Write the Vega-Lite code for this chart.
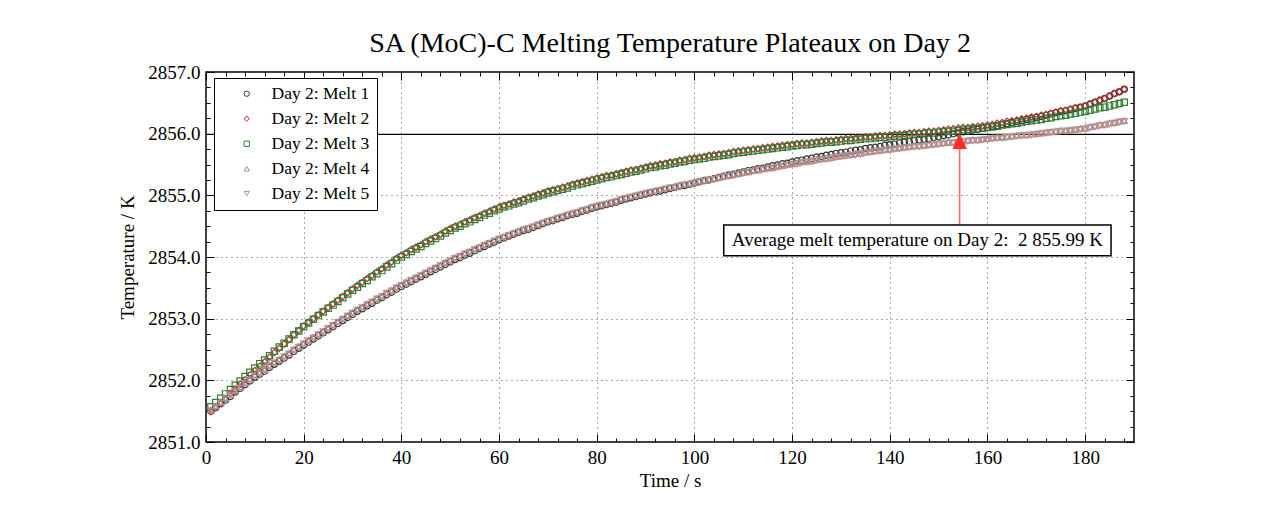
{
"$schema": "https://vega.github.io/schema/vega-lite/v6.json",
"width": 928,
"height": 370,
"autosize": {"type": "none"},
"padding": {"left": 206, "top": 72, "right": 140, "bottom": 73},
"background": "white",
"title": {"text": "SA (MoC)-C Melting Temperature Plateaux on Day 2", "font": "Liberation Serif", "fontSize": 28, "fontWeight": "normal", "color": "black", "offset": 5, "frame": "group", "anchor": "middle"},
"config": {"view": {"stroke": "black", "strokeWidth": 1.5}, "font": "Liberation Serif"},
"datasets": {
"ann": [{"avg": 2855.99, "ax": 154.3, "ay0": 2854.52, "ay1": 2855.8, "hy": 2855.88, "bx0": 106.0, "bx1": 185.3, "by0": 2854.02, "by1": 2854.52, "tx": 145.65, "ty": 2854.27, "label": "Average melt temperature on Day 2: \u00a02 855.99 K"}],
"melt": [
{"t":1,"m1":2851.50,"m2":2851.49,"m3":2851.57,"m4":2851.52,"m5":2851.51},
{"t":2,"m1":2851.56,"m2":2851.56,"m3":2851.64,"m4":2851.58,"m5":2851.57},
{"t":3,"m1":2851.62,"m2":2851.64,"m3":2851.71,"m4":2851.64,"m5":2851.63},
{"t":4,"m1":2851.68,"m2":2851.71,"m3":2851.78,"m4":2851.71,"m5":2851.70},
{"t":5,"m1":2851.74,"m2":2851.79,"m3":2851.85,"m4":2851.77,"m5":2851.76},
{"t":6,"m1":2851.81,"m2":2851.86,"m3":2851.92,"m4":2851.83,"m5":2851.82},
{"t":7,"m1":2851.87,"m2":2851.94,"m3":2851.99,"m4":2851.89,"m5":2851.88},
{"t":8,"m1":2851.93,"m2":2852.01,"m3":2852.06,"m4":2851.96,"m5":2851.95},
{"t":9,"m1":2851.99,"m2":2852.09,"m3":2852.13,"m4":2852.02,"m5":2852.01},
{"t":10,"m1":2852.05,"m2":2852.16,"m3":2852.20,"m4":2852.08,"m5":2852.07},
{"t":11,"m1":2852.10,"m2":2852.23,"m3":2852.27,"m4":2852.13,"m5":2852.12},
{"t":12,"m1":2852.15,"m2":2852.30,"m3":2852.33,"m4":2852.18,"m5":2852.17},
{"t":13,"m1":2852.21,"m2":2852.38,"m3":2852.40,"m4":2852.24,"m5":2852.23},
{"t":14,"m1":2852.26,"m2":2852.45,"m3":2852.47,"m4":2852.29,"m5":2852.28},
{"t":15,"m1":2852.31,"m2":2852.52,"m3":2852.54,"m4":2852.34,"m5":2852.33},
{"t":16,"m1":2852.36,"m2":2852.59,"m3":2852.60,"m4":2852.39,"m5":2852.38},
{"t":17,"m1":2852.41,"m2":2852.66,"m3":2852.67,"m4":2852.44,"m5":2852.43},
{"t":18,"m1":2852.47,"m2":2852.74,"m3":2852.74,"m4":2852.50,"m5":2852.49},
{"t":19,"m1":2852.52,"m2":2852.81,"m3":2852.80,"m4":2852.55,"m5":2852.54},
{"t":20,"m1":2852.57,"m2":2852.88,"m3":2852.87,"m4":2852.60,"m5":2852.59},
{"t":21,"m1":2852.62,"m2":2852.94,"m3":2852.93,"m4":2852.65,"m5":2852.64},
{"t":22,"m1":2852.67,"m2":2853.00,"m3":2852.99,"m4":2852.70,"m5":2852.69},
{"t":23,"m1":2852.72,"m2":2853.06,"m3":2853.05,"m4":2852.75,"m5":2852.74},
{"t":24,"m1":2852.77,"m2":2853.12,"m3":2853.11,"m4":2852.80,"m5":2852.79},
{"t":25,"m1":2852.82,"m2":2853.18,"m3":2853.17,"m4":2852.85,"m5":2852.84},
{"t":26,"m1":2852.87,"m2":2853.24,"m3":2853.22,"m4":2852.90,"m5":2852.89},
{"t":27,"m1":2852.92,"m2":2853.30,"m3":2853.28,"m4":2852.95,"m5":2852.94},
{"t":28,"m1":2852.97,"m2":2853.36,"m3":2853.34,"m4":2853.00,"m5":2852.99},
{"t":29,"m1":2853.02,"m2":2853.42,"m3":2853.40,"m4":2853.05,"m5":2853.04},
{"t":30,"m1":2853.07,"m2":2853.48,"m3":2853.46,"m4":2853.10,"m5":2853.09},
{"t":31,"m1":2853.12,"m2":2853.54,"m3":2853.51,"m4":2853.15,"m5":2853.14},
{"t":32,"m1":2853.16,"m2":2853.59,"m3":2853.57,"m4":2853.19,"m5":2853.18},
{"t":33,"m1":2853.21,"m2":2853.65,"m3":2853.62,"m4":2853.24,"m5":2853.23},
{"t":34,"m1":2853.25,"m2":2853.70,"m3":2853.68,"m4":2853.28,"m5":2853.27},
{"t":35,"m1":2853.30,"m2":2853.76,"m3":2853.73,"m4":2853.33,"m5":2853.32},
{"t":36,"m1":2853.34,"m2":2853.81,"m3":2853.78,"m4":2853.37,"m5":2853.36},
{"t":37,"m1":2853.39,"m2":2853.87,"m3":2853.84,"m4":2853.42,"m5":2853.41},
{"t":38,"m1":2853.43,"m2":2853.92,"m3":2853.89,"m4":2853.46,"m5":2853.45},
{"t":39,"m1":2853.48,"m2":2853.98,"m3":2853.95,"m4":2853.51,"m5":2853.50},
{"t":40,"m1":2853.52,"m2":2854.03,"m3":2854.00,"m4":2853.55,"m5":2853.54},
{"t":41,"m1":2853.56,"m2":2854.07,"m3":2854.04,"m4":2853.59,"m5":2853.58},
{"t":42,"m1":2853.60,"m2":2854.12,"m3":2854.09,"m4":2853.63,"m5":2853.62},
{"t":43,"m1":2853.64,"m2":2854.16,"m3":2854.13,"m4":2853.67,"m5":2853.66},
{"t":44,"m1":2853.68,"m2":2854.20,"m3":2854.17,"m4":2853.71,"m5":2853.70},
{"t":45,"m1":2853.72,"m2":2854.25,"m3":2854.22,"m4":2853.75,"m5":2853.74},
{"t":46,"m1":2853.76,"m2":2854.29,"m3":2854.26,"m4":2853.79,"m5":2853.78},
{"t":47,"m1":2853.80,"m2":2854.33,"m3":2854.30,"m4":2853.83,"m5":2853.82},
{"t":48,"m1":2853.84,"m2":2854.37,"m3":2854.34,"m4":2853.87,"m5":2853.86},
{"t":49,"m1":2853.88,"m2":2854.42,"m3":2854.39,"m4":2853.91,"m5":2853.90},
{"t":50,"m1":2853.92,"m2":2854.46,"m3":2854.43,"m4":2853.95,"m5":2853.94},
{"t":51,"m1":2853.96,"m2":2854.50,"m3":2854.47,"m4":2853.99,"m5":2853.98},
{"t":52,"m1":2853.99,"m2":2854.53,"m3":2854.50,"m4":2854.02,"m5":2854.01},
{"t":53,"m1":2854.03,"m2":2854.57,"m3":2854.54,"m4":2854.06,"m5":2854.05},
{"t":54,"m1":2854.06,"m2":2854.60,"m3":2854.57,"m4":2854.09,"m5":2854.08},
{"t":55,"m1":2854.10,"m2":2854.64,"m3":2854.61,"m4":2854.13,"m5":2854.12},
{"t":56,"m1":2854.14,"m2":2854.67,"m3":2854.64,"m4":2854.16,"m5":2854.15},
{"t":57,"m1":2854.17,"m2":2854.71,"m3":2854.68,"m4":2854.20,"m5":2854.19},
{"t":58,"m1":2854.21,"m2":2854.74,"m3":2854.71,"m4":2854.23,"m5":2854.22},
{"t":59,"m1":2854.24,"m2":2854.78,"m3":2854.75,"m4":2854.27,"m5":2854.26},
{"t":60,"m1":2854.28,"m2":2854.81,"m3":2854.78,"m4":2854.30,"m5":2854.29},
{"t":61,"m1":2854.31,"m2":2854.84,"m3":2854.81,"m4":2854.33,"m5":2854.32},
{"t":62,"m1":2854.34,"m2":2854.86,"m3":2854.83,"m4":2854.36,"m5":2854.35},
{"t":63,"m1":2854.37,"m2":2854.89,"m3":2854.86,"m4":2854.39,"m5":2854.38},
{"t":64,"m1":2854.40,"m2":2854.91,"m3":2854.88,"m4":2854.42,"m5":2854.41},
{"t":65,"m1":2854.43,"m2":2854.94,"m3":2854.91,"m4":2854.45,"m5":2854.44},
{"t":66,"m1":2854.45,"m2":2854.97,"m3":2854.94,"m4":2854.47,"m5":2854.46},
{"t":67,"m1":2854.48,"m2":2854.99,"m3":2854.96,"m4":2854.50,"m5":2854.49},
{"t":68,"m1":2854.51,"m2":2855.02,"m3":2854.99,"m4":2854.53,"m5":2854.52},
{"t":69,"m1":2854.54,"m2":2855.04,"m3":2855.01,"m4":2854.56,"m5":2854.55},
{"t":70,"m1":2854.57,"m2":2855.07,"m3":2855.04,"m4":2854.59,"m5":2854.58},
{"t":71,"m1":2854.59,"m2":2855.09,"m3":2855.06,"m4":2854.61,"m5":2854.60},
{"t":72,"m1":2854.62,"m2":2855.11,"m3":2855.08,"m4":2854.64,"m5":2854.63},
{"t":73,"m1":2854.64,"m2":2855.13,"m3":2855.10,"m4":2854.66,"m5":2854.65},
{"t":74,"m1":2854.67,"m2":2855.15,"m3":2855.12,"m4":2854.69,"m5":2854.68},
{"t":75,"m1":2854.69,"m2":2855.18,"m3":2855.15,"m4":2854.71,"m5":2854.70},
{"t":76,"m1":2854.71,"m2":2855.20,"m3":2855.17,"m4":2854.73,"m5":2854.72},
{"t":77,"m1":2854.74,"m2":2855.22,"m3":2855.19,"m4":2854.76,"m5":2854.75},
{"t":78,"m1":2854.76,"m2":2855.24,"m3":2855.21,"m4":2854.78,"m5":2854.77},
{"t":79,"m1":2854.79,"m2":2855.26,"m3":2855.23,"m4":2854.81,"m5":2854.80},
{"t":80,"m1":2854.81,"m2":2855.28,"m3":2855.25,"m4":2854.83,"m5":2854.82},
{"t":81,"m1":2854.83,"m2":2855.30,"m3":2855.27,"m4":2854.85,"m5":2854.84},
{"t":82,"m1":2854.85,"m2":2855.32,"m3":2855.29,"m4":2854.87,"m5":2854.86},
{"t":83,"m1":2854.87,"m2":2855.33,"m3":2855.30,"m4":2854.89,"m5":2854.88},
{"t":84,"m1":2854.89,"m2":2855.35,"m3":2855.32,"m4":2854.91,"m5":2854.90},
{"t":85,"m1":2854.92,"m2":2855.37,"m3":2855.34,"m4":2854.94,"m5":2854.93},
{"t":86,"m1":2854.94,"m2":2855.39,"m3":2855.36,"m4":2854.96,"m5":2854.95},
{"t":87,"m1":2854.96,"m2":2855.41,"m3":2855.38,"m4":2854.98,"m5":2854.97},
{"t":88,"m1":2854.98,"m2":2855.42,"m3":2855.39,"m4":2855.00,"m5":2854.99},
{"t":89,"m1":2855.00,"m2":2855.44,"m3":2855.41,"m4":2855.02,"m5":2855.01},
{"t":90,"m1":2855.02,"m2":2855.46,"m3":2855.43,"m4":2855.04,"m5":2855.03},
{"t":91,"m1":2855.04,"m2":2855.48,"m3":2855.45,"m4":2855.06,"m5":2855.05},
{"t":92,"m1":2855.06,"m2":2855.49,"m3":2855.46,"m4":2855.07,"m5":2855.06},
{"t":93,"m1":2855.07,"m2":2855.51,"m3":2855.48,"m4":2855.09,"m5":2855.08},
{"t":94,"m1":2855.09,"m2":2855.52,"m3":2855.49,"m4":2855.11,"m5":2855.10},
{"t":95,"m1":2855.11,"m2":2855.54,"m3":2855.51,"m4":2855.13,"m5":2855.12},
{"t":96,"m1":2855.13,"m2":2855.55,"m3":2855.52,"m4":2855.14,"m5":2855.13},
{"t":97,"m1":2855.15,"m2":2855.57,"m3":2855.54,"m4":2855.16,"m5":2855.15},
{"t":98,"m1":2855.16,"m2":2855.58,"m3":2855.55,"m4":2855.18,"m5":2855.17},
{"t":99,"m1":2855.18,"m2":2855.60,"m3":2855.57,"m4":2855.19,"m5":2855.18},
{"t":100,"m1":2855.20,"m2":2855.61,"m3":2855.58,"m4":2855.21,"m5":2855.20},
{"t":101,"m1":2855.22,"m2":2855.62,"m3":2855.59,"m4":2855.23,"m5":2855.22},
{"t":102,"m1":2855.24,"m2":2855.63,"m3":2855.60,"m4":2855.24,"m5":2855.23},
{"t":103,"m1":2855.25,"m2":2855.65,"m3":2855.62,"m4":2855.26,"m5":2855.25},
{"t":104,"m1":2855.27,"m2":2855.66,"m3":2855.63,"m4":2855.27,"m5":2855.26},
{"t":105,"m1":2855.29,"m2":2855.67,"m3":2855.64,"m4":2855.29,"m5":2855.28},
{"t":106,"m1":2855.31,"m2":2855.68,"m3":2855.65,"m4":2855.31,"m5":2855.30},
{"t":107,"m1":2855.33,"m2":2855.69,"m3":2855.66,"m4":2855.32,"m5":2855.31},
{"t":108,"m1":2855.34,"m2":2855.71,"m3":2855.68,"m4":2855.34,"m5":2855.33},
{"t":109,"m1":2855.36,"m2":2855.72,"m3":2855.69,"m4":2855.35,"m5":2855.34},
{"t":110,"m1":2855.38,"m2":2855.73,"m3":2855.70,"m4":2855.37,"m5":2855.36},
{"t":111,"m1":2855.40,"m2":2855.74,"m3":2855.71,"m4":2855.38,"m5":2855.37},
{"t":112,"m1":2855.41,"m2":2855.75,"m3":2855.72,"m4":2855.40,"m5":2855.39},
{"t":113,"m1":2855.43,"m2":2855.76,"m3":2855.73,"m4":2855.41,"m5":2855.40},
{"t":114,"m1":2855.44,"m2":2855.77,"m3":2855.74,"m4":2855.43,"m5":2855.42},
{"t":115,"m1":2855.46,"m2":2855.78,"m3":2855.75,"m4":2855.44,"m5":2855.43},
{"t":116,"m1":2855.48,"m2":2855.79,"m3":2855.76,"m4":2855.45,"m5":2855.44},
{"t":117,"m1":2855.49,"m2":2855.80,"m3":2855.77,"m4":2855.47,"m5":2855.46},
{"t":118,"m1":2855.51,"m2":2855.81,"m3":2855.78,"m4":2855.48,"m5":2855.47},
{"t":119,"m1":2855.52,"m2":2855.82,"m3":2855.79,"m4":2855.50,"m5":2855.49},
{"t":120,"m1":2855.54,"m2":2855.83,"m3":2855.80,"m4":2855.51,"m5":2855.50},
{"t":121,"m1":2855.56,"m2":2855.84,"m3":2855.81,"m4":2855.52,"m5":2855.51},
{"t":122,"m1":2855.57,"m2":2855.85,"m3":2855.82,"m4":2855.54,"m5":2855.53},
{"t":123,"m1":2855.59,"m2":2855.85,"m3":2855.82,"m4":2855.55,"m5":2855.54},
{"t":124,"m1":2855.60,"m2":2855.86,"m3":2855.83,"m4":2855.56,"m5":2855.55},
{"t":125,"m1":2855.62,"m2":2855.87,"m3":2855.84,"m4":2855.58,"m5":2855.57},
{"t":126,"m1":2855.63,"m2":2855.88,"m3":2855.85,"m4":2855.59,"m5":2855.58},
{"t":127,"m1":2855.65,"m2":2855.89,"m3":2855.86,"m4":2855.60,"m5":2855.59},
{"t":128,"m1":2855.66,"m2":2855.89,"m3":2855.86,"m4":2855.61,"m5":2855.60},
{"t":129,"m1":2855.68,"m2":2855.90,"m3":2855.87,"m4":2855.63,"m5":2855.62},
{"t":130,"m1":2855.69,"m2":2855.91,"m3":2855.88,"m4":2855.64,"m5":2855.63},
{"t":131,"m1":2855.70,"m2":2855.92,"m3":2855.89,"m4":2855.65,"m5":2855.64},
{"t":132,"m1":2855.72,"m2":2855.92,"m3":2855.89,"m4":2855.66,"m5":2855.65},
{"t":133,"m1":2855.73,"m2":2855.93,"m3":2855.90,"m4":2855.67,"m5":2855.66},
{"t":134,"m1":2855.74,"m2":2855.94,"m3":2855.91,"m4":2855.68,"m5":2855.67},
{"t":135,"m1":2855.76,"m2":2855.95,"m3":2855.92,"m4":2855.70,"m5":2855.69},
{"t":136,"m1":2855.77,"m2":2855.95,"m3":2855.92,"m4":2855.71,"m5":2855.70},
{"t":137,"m1":2855.78,"m2":2855.96,"m3":2855.93,"m4":2855.72,"m5":2855.71},
{"t":138,"m1":2855.79,"m2":2855.97,"m3":2855.94,"m4":2855.73,"m5":2855.72},
{"t":139,"m1":2855.81,"m2":2855.97,"m3":2855.94,"m4":2855.74,"m5":2855.73},
{"t":140,"m1":2855.82,"m2":2855.98,"m3":2855.95,"m4":2855.75,"m5":2855.74},
{"t":141,"m1":2855.83,"m2":2855.99,"m3":2855.96,"m4":2855.76,"m5":2855.75},
{"t":142,"m1":2855.85,"m2":2855.99,"m3":2855.96,"m4":2855.77,"m5":2855.76},
{"t":143,"m1":2855.86,"m2":2856.00,"m3":2855.97,"m4":2855.78,"m5":2855.77},
{"t":144,"m1":2855.87,"m2":2856.01,"m3":2855.98,"m4":2855.79,"m5":2855.78},
{"t":145,"m1":2855.89,"m2":2856.02,"m3":2855.99,"m4":2855.80,"m5":2855.79},
{"t":146,"m1":2855.90,"m2":2856.02,"m3":2855.99,"m4":2855.80,"m5":2855.79},
{"t":147,"m1":2855.91,"m2":2856.03,"m3":2856.00,"m4":2855.81,"m5":2855.80},
{"t":148,"m1":2855.92,"m2":2856.04,"m3":2856.01,"m4":2855.82,"m5":2855.81},
{"t":149,"m1":2855.94,"m2":2856.04,"m3":2856.01,"m4":2855.83,"m5":2855.82},
{"t":150,"m1":2855.95,"m2":2856.05,"m3":2856.02,"m4":2855.84,"m5":2855.83},
{"t":151,"m1":2855.97,"m2":2856.06,"m3":2856.03,"m4":2855.85,"m5":2855.84},
{"t":152,"m1":2855.98,"m2":2856.07,"m3":2856.04,"m4":2855.86,"m5":2855.85},
{"t":153,"m1":2856.00,"m2":2856.08,"m3":2856.04,"m4":2855.86,"m5":2855.85},
{"t":154,"m1":2856.01,"m2":2856.09,"m3":2856.05,"m4":2855.87,"m5":2855.86},
{"t":155,"m1":2856.03,"m2":2856.10,"m3":2856.06,"m4":2855.88,"m5":2855.87},
{"t":156,"m1":2856.04,"m2":2856.10,"m3":2856.07,"m4":2855.89,"m5":2855.88},
{"t":157,"m1":2856.06,"m2":2856.11,"m3":2856.08,"m4":2855.90,"m5":2855.89},
{"t":158,"m1":2856.07,"m2":2856.12,"m3":2856.08,"m4":2855.90,"m5":2855.89},
{"t":159,"m1":2856.09,"m2":2856.13,"m3":2856.09,"m4":2855.91,"m5":2855.90},
{"t":160,"m1":2856.10,"m2":2856.14,"m3":2856.10,"m4":2855.92,"m5":2855.91},
{"t":161,"m1":2856.12,"m2":2856.15,"m3":2856.11,"m4":2855.93,"m5":2855.92},
{"t":162,"m1":2856.13,"m2":2856.17,"m3":2856.12,"m4":2855.94,"m5":2855.93},
{"t":163,"m1":2856.15,"m2":2856.18,"m3":2856.14,"m4":2855.94,"m5":2855.93},
{"t":164,"m1":2856.16,"m2":2856.20,"m3":2856.15,"m4":2855.95,"m5":2855.94},
{"t":165,"m1":2856.18,"m2":2856.21,"m3":2856.16,"m4":2855.96,"m5":2855.95},
{"t":166,"m1":2856.20,"m2":2856.22,"m3":2856.17,"m4":2855.97,"m5":2855.96},
{"t":167,"m1":2856.21,"m2":2856.24,"m3":2856.18,"m4":2855.98,"m5":2855.97},
{"t":168,"m1":2856.23,"m2":2856.25,"m3":2856.20,"m4":2855.98,"m5":2855.97},
{"t":169,"m1":2856.24,"m2":2856.27,"m3":2856.21,"m4":2855.99,"m5":2855.98},
{"t":170,"m1":2856.26,"m2":2856.28,"m3":2856.22,"m4":2856.00,"m5":2855.99},
{"t":171,"m1":2856.28,"m2":2856.30,"m3":2856.23,"m4":2856.01,"m5":2856.00},
{"t":172,"m1":2856.30,"m2":2856.31,"m3":2856.25,"m4":2856.02,"m5":2856.01},
{"t":173,"m1":2856.32,"m2":2856.33,"m3":2856.26,"m4":2856.03,"m5":2856.02},
{"t":174,"m1":2856.34,"m2":2856.35,"m3":2856.28,"m4":2856.04,"m5":2856.03},
{"t":175,"m1":2856.36,"m2":2856.37,"m3":2856.29,"m4":2856.05,"m5":2856.04},
{"t":176,"m1":2856.37,"m2":2856.38,"m3":2856.30,"m4":2856.05,"m5":2856.04},
{"t":177,"m1":2856.39,"m2":2856.40,"m3":2856.32,"m4":2856.06,"m5":2856.05},
{"t":178,"m1":2856.41,"m2":2856.42,"m3":2856.33,"m4":2856.07,"m5":2856.06},
{"t":179,"m1":2856.43,"m2":2856.43,"m3":2856.35,"m4":2856.08,"m5":2856.07},
{"t":180,"m1":2856.45,"m2":2856.45,"m3":2856.36,"m4":2856.09,"m5":2856.08},
{"t":181,"m1":2856.48,"m2":2856.48,"m3":2856.38,"m4":2856.11,"m5":2856.10},
{"t":182,"m1":2856.51,"m2":2856.51,"m3":2856.40,"m4":2856.12,"m5":2856.11},
{"t":183,"m1":2856.54,"m2":2856.54,"m3":2856.42,"m4":2856.14,"m5":2856.13},
{"t":184,"m1":2856.57,"m2":2856.57,"m3":2856.43,"m4":2856.15,"m5":2856.14},
{"t":185,"m1":2856.61,"m2":2856.61,"m3":2856.45,"m4":2856.17,"m5":2856.16},
{"t":186,"m1":2856.65,"m2":2856.65,"m3":2856.47,"m4":2856.18,"m5":2856.17},
{"t":187,"m1":2856.68,"m2":2856.68,"m3":2856.49,"m4":2856.20,"m5":2856.19},
{"t":188,"m1":2856.72,"m2":2856.72,"m3":2856.51,"m4":2856.21,"m5":2856.20}
]
},
"layer": [
{
"data": {"name": "ann"},
"mark": {"type": "rule", "color": "black", "strokeWidth": 1.3},
"encoding": {
"y": {"field": "avg", "type": "quantitative", "scale": {"domain": [2851, 2857], "nice": false, "zero": false}, "axis": null}
}
},
{
"data": {"name": "melt"},
"transform": [{"fold": ["m1", "m2", "m3", "m4", "m5"], "as": ["series", "T"]}],
"mark": {"type": "point", "filled": false, "size": 40, "strokeWidth": 1.2, "opacity": 1},
"encoding": {
"x": {"field": "t", "type": "quantitative", "scale": {"domain": [0, 190], "nice": false, "zero": false},
"axis": {"orient": "bottom", "values": [0, 20, 40, 60, 80, 100, 120, 140, 160, 180], "grid": true, "gridColor": "#555555", "gridDash": [1, 4], "gridWidth": 1, "gridOpacity": 1, "domain": false, "ticks": true, "tickSize": -8, "tickColor": "black", "tickWidth": 1, "labelFont": "Liberation Serif", "labelFontSize": 19, "labelColor": "black", "labelPadding": 14, "labelFlush": false, "labelOverlap": false, "title": "Time / s", "titleFont": "Liberation Serif", "titleFontSize": 19, "titleFontWeight": "normal", "titleColor": "black", "titlePadding": 4}},
"y": {"field": "T", "type": "quantitative", "scale": {"domain": [2851, 2857], "nice": false, "zero": false},
"axis": {"orient": "left", "values": [2851, 2852, 2853, 2854, 2855, 2856, 2857], "format": ".1f", "grid": true, "gridColor": "#555555", "gridDash": [1, 4], "gridWidth": 1, "gridOpacity": 1, "domain": false, "ticks": true, "tickSize": -8, "tickColor": "black", "tickWidth": 1, "labelFont": "Liberation Serif", "labelFontSize": 19, "labelColor": "black", "labelPadding": 14, "labelFlush": false, "labelOverlap": false, "title": "Temperature / K", "titleFont": "Liberation Serif", "titleFontSize": 19, "titleFontWeight": "normal", "titleColor": "black", "titlePadding": 10}},
"color": {"field": "series", "type": "nominal", "scale": {"domain": ["m1", "m2", "m3", "m4", "m5"], "range": ["#333333", "#b5302e", "#2f7d32", "#c48585", "#a89595"]},
"legend": {"orient": "none", "legendX": 8, "legendY": 6, "title": null, "fillColor": "white", "strokeColor": "black", "padding": 7, "rowPadding": 6, "labelFont": "Liberation Serif", "labelFontSize": 17.5, "labelColor": "black", "symbolSize": 28, "symbolStrokeWidth": 1, "symbolOffset": 17, "labelOffset": 16, "labelExpr": "'Day 2: Melt ' + slice(datum.label, 1)"}},
"shape": {"field": "series", "type": "nominal", "scale": {"domain": ["m1", "m2", "m3", "m4", "m5"], "range": ["circle", "diamond", "square", "triangle-up", "triangle-down"]},
"legend": {"orient": "none", "legendX": 8, "legendY": 6, "title": null, "fillColor": "white", "strokeColor": "black", "padding": 7, "rowPadding": 6, "labelFont": "Liberation Serif", "labelFontSize": 17.5, "labelColor": "black", "symbolSize": 28, "symbolStrokeWidth": 1, "symbolOffset": 17, "labelOffset": 16, "labelExpr": "'Day 2: Melt ' + slice(datum.label, 1)"}}
}
},
{
"data": {"name": "ann"},
"mark": {"type": "rule", "color": "#ff6666", "strokeWidth": 1.5},
"encoding": {
"x": {"field": "ax", "type": "quantitative", "scale": {"domain": [0, 190], "nice": false, "zero": false},
"axis": {"orient": "bottom", "values": [4, 8, 12, 16, 24, 28, 32, 36, 44, 48, 52, 56, 64, 68, 72, 76, 84, 88, 92, 96, 104, 108, 112, 116, 124, 128, 132, 136, 144, 148, 152, 156, 164, 168, 172, 176, 184, 188], "grid": false, "domain": false, "labels": false, "ticks": true, "tickSize": -4, "tickColor": "black", "tickWidth": 1, "title": null}},
"y": {"field": "ay0", "type": "quantitative", "scale": {"domain": [2851, 2857], "nice": false, "zero": false},
"axis": {"orient": "left", "values": [2851.25, 2851.5, 2851.75, 2852.25, 2852.5, 2852.75, 2853.25, 2853.5, 2853.75, 2854.25, 2854.5, 2854.75, 2855.25, 2855.5, 2855.75, 2856.25, 2856.5, 2856.75], "grid": false, "domain": false, "labels": false, "ticks": true, "tickSize": -4, "tickColor": "black", "tickWidth": 1, "title": null}},
"y2": {"field": "ay1"}
}
},
{
"data": {"name": "ann"},
"mark": {"type": "point", "filled": true, "color": "#ff2a2a", "opacity": 1, "size": 256, "shape": "M0,-1L-0.9,1L0.9,1Z"},
"encoding": {
"x": {"field": "ax", "type": "quantitative", "scale": {"domain": [0, 190], "nice": false, "zero": false},
"axis": {"orient": "top", "values": [0, 20, 40, 60, 80, 100, 120, 140, 160, 180], "grid": false, "domain": false, "labels": false, "ticks": true, "tickSize": -8, "tickColor": "black", "tickWidth": 1, "title": null}},
"y": {"field": "hy", "type": "quantitative", "scale": {"domain": [2851, 2857], "nice": false, "zero": false},
"axis": {"orient": "right", "values": [2851, 2852, 2853, 2854, 2855, 2856, 2857], "grid": false, "domain": false, "labels": false, "ticks": true, "tickSize": -8, "tickColor": "black", "tickWidth": 1, "title": null}}
}
},
{
"data": {"name": "ann"},
"mark": {"type": "rect", "fill": "white", "stroke": "black", "strokeWidth": 1.5},
"encoding": {
"x": {"field": "bx0", "type": "quantitative", "scale": {"domain": [0, 190], "nice": false, "zero": false},
"axis": {"orient": "top", "values": [4, 8, 12, 16, 24, 28, 32, 36, 44, 48, 52, 56, 64, 68, 72, 76, 84, 88, 92, 96, 104, 108, 112, 116, 124, 128, 132, 136, 144, 148, 152, 156, 164, 168, 172, 176, 184, 188], "grid": false, "domain": false, "labels": false, "ticks": true, "tickSize": -4, "tickColor": "black", "tickWidth": 1, "title": null}},
"x2": {"field": "bx1"},
"y": {"field": "by0", "type": "quantitative", "scale": {"domain": [2851, 2857], "nice": false, "zero": false},
"axis": {"orient": "right", "values": [2851.25, 2851.5, 2851.75, 2852.25, 2852.5, 2852.75, 2853.25, 2853.5, 2853.75, 2854.25, 2854.5, 2854.75, 2855.25, 2855.5, 2855.75, 2856.25, 2856.5, 2856.75], "grid": false, "domain": false, "labels": false, "ticks": true, "tickSize": -4, "tickColor": "black", "tickWidth": 1, "title": null}},
"y2": {"field": "by1"}
}
},
{
"data": {"name": "ann"},
"mark": {"type": "text", "font": "Liberation Serif", "fontSize": 19, "color": "black", "align": "center", "baseline": "middle"},
"encoding": {
"x": {"field": "tx", "type": "quantitative", "scale": {"domain": [0, 190], "nice": false, "zero": false}, "axis": null},
"y": {"field": "ty", "type": "quantitative", "scale": {"domain": [2851, 2857], "nice": false, "zero": false}, "axis": null},
"text": {"field": "label"}
}
}
],
"resolve": {"axis": {"x": "independent", "y": "independent"}}
}
